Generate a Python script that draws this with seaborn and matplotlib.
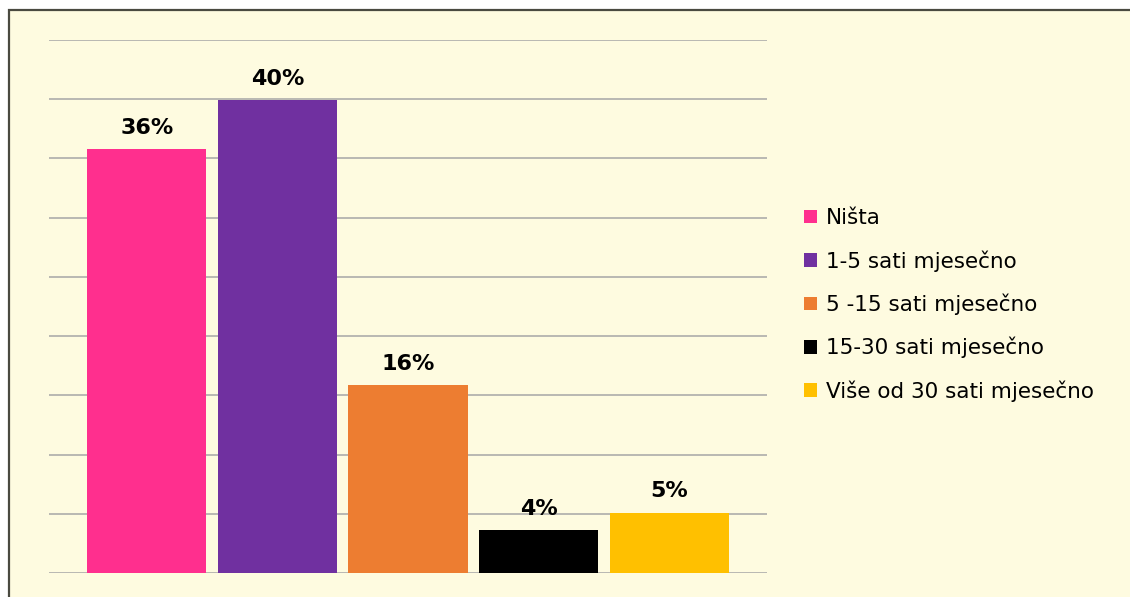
import matplotlib
matplotlib.use("Agg")
import matplotlib.pyplot as plt
from matplotlib.patches import Rectangle, Patch
import seaborn as sns
import pandas as pd

# data
categories = ["Ništa", "1-5 sati mjesečno", "5 -15 sati mjesečno",
              "15-30 sati mjesečno", "Više od 30 sati mjesečno"]
values = [35.8, 39.9, 15.9, 3.6, 5.1]
colors = ["#FF2F8E", "#7030A0", "#ED7D31", "#000000", "#FFC000"]

bg = "#FEFBE0"

sns.set_theme(style="white")
plt.rcParams["font.family"] = ["DejaVu Sans"]

fig = plt.figure(figsize=(11.3, 5.97), dpi=100, facecolor="white")

# yellow panel with the dark frame on top/left (cut off at right/bottom)
frame = Rectangle((8.5 / 1130, -0.05), 1.2, (597 - 9.5) / 597 + 0.05,
                  transform=fig.transFigure, facecolor=bg,
                  edgecolor="#4A4A40", linewidth=1.6, zorder=0)
fig.add_artist(frame)

ax = fig.add_axes([49 / 1130, 24 / 597, 718 / 1130, 533 / 597])
ax.set_facecolor("none")

df = pd.DataFrame({"cat": categories, "val": values})
sns.barplot(data=df, x="cat", y="val", hue="cat", palette=colors,
            width=0.912, legend=False, ax=ax, saturation=1, linewidth=0)

ax.set_ylim(0, 45)
ax.set_xlim(-0.75, 4.75)
ax.set_yticks(range(0, 50, 5))
ax.set_yticklabels([])
ax.set_xticks([])
ax.set_xlabel("")
ax.set_ylabel("")
ax.tick_params(length=0)
ax.set_axisbelow(True)
ax.yaxis.grid(True, color="#A6A6A6", linewidth=1.1)
for s in ax.spines.values():
    s.set_visible(False)

for cont in ax.containers:
    ax.bar_label(cont, labels=[f"{v:.0f}%" for v in cont.datavalues],
                 padding=8, fontsize=16, fontweight="bold", color="black")

handles = [Patch(facecolor=c, edgecolor="none") for c in colors]
fig.legend(handles, categories, loc="center left",
           bbox_to_anchor=(804 / 1130, 1 - 305 / 597),
           frameon=False, fontsize=15.5, labelcolor="black",
           handlelength=0.6, handleheight=0.6,
           handletextpad=0.4, labelspacing=1.02, borderpad=0, borderaxespad=0)

fig.savefig("out.png", dpi=100, facecolor="white")
